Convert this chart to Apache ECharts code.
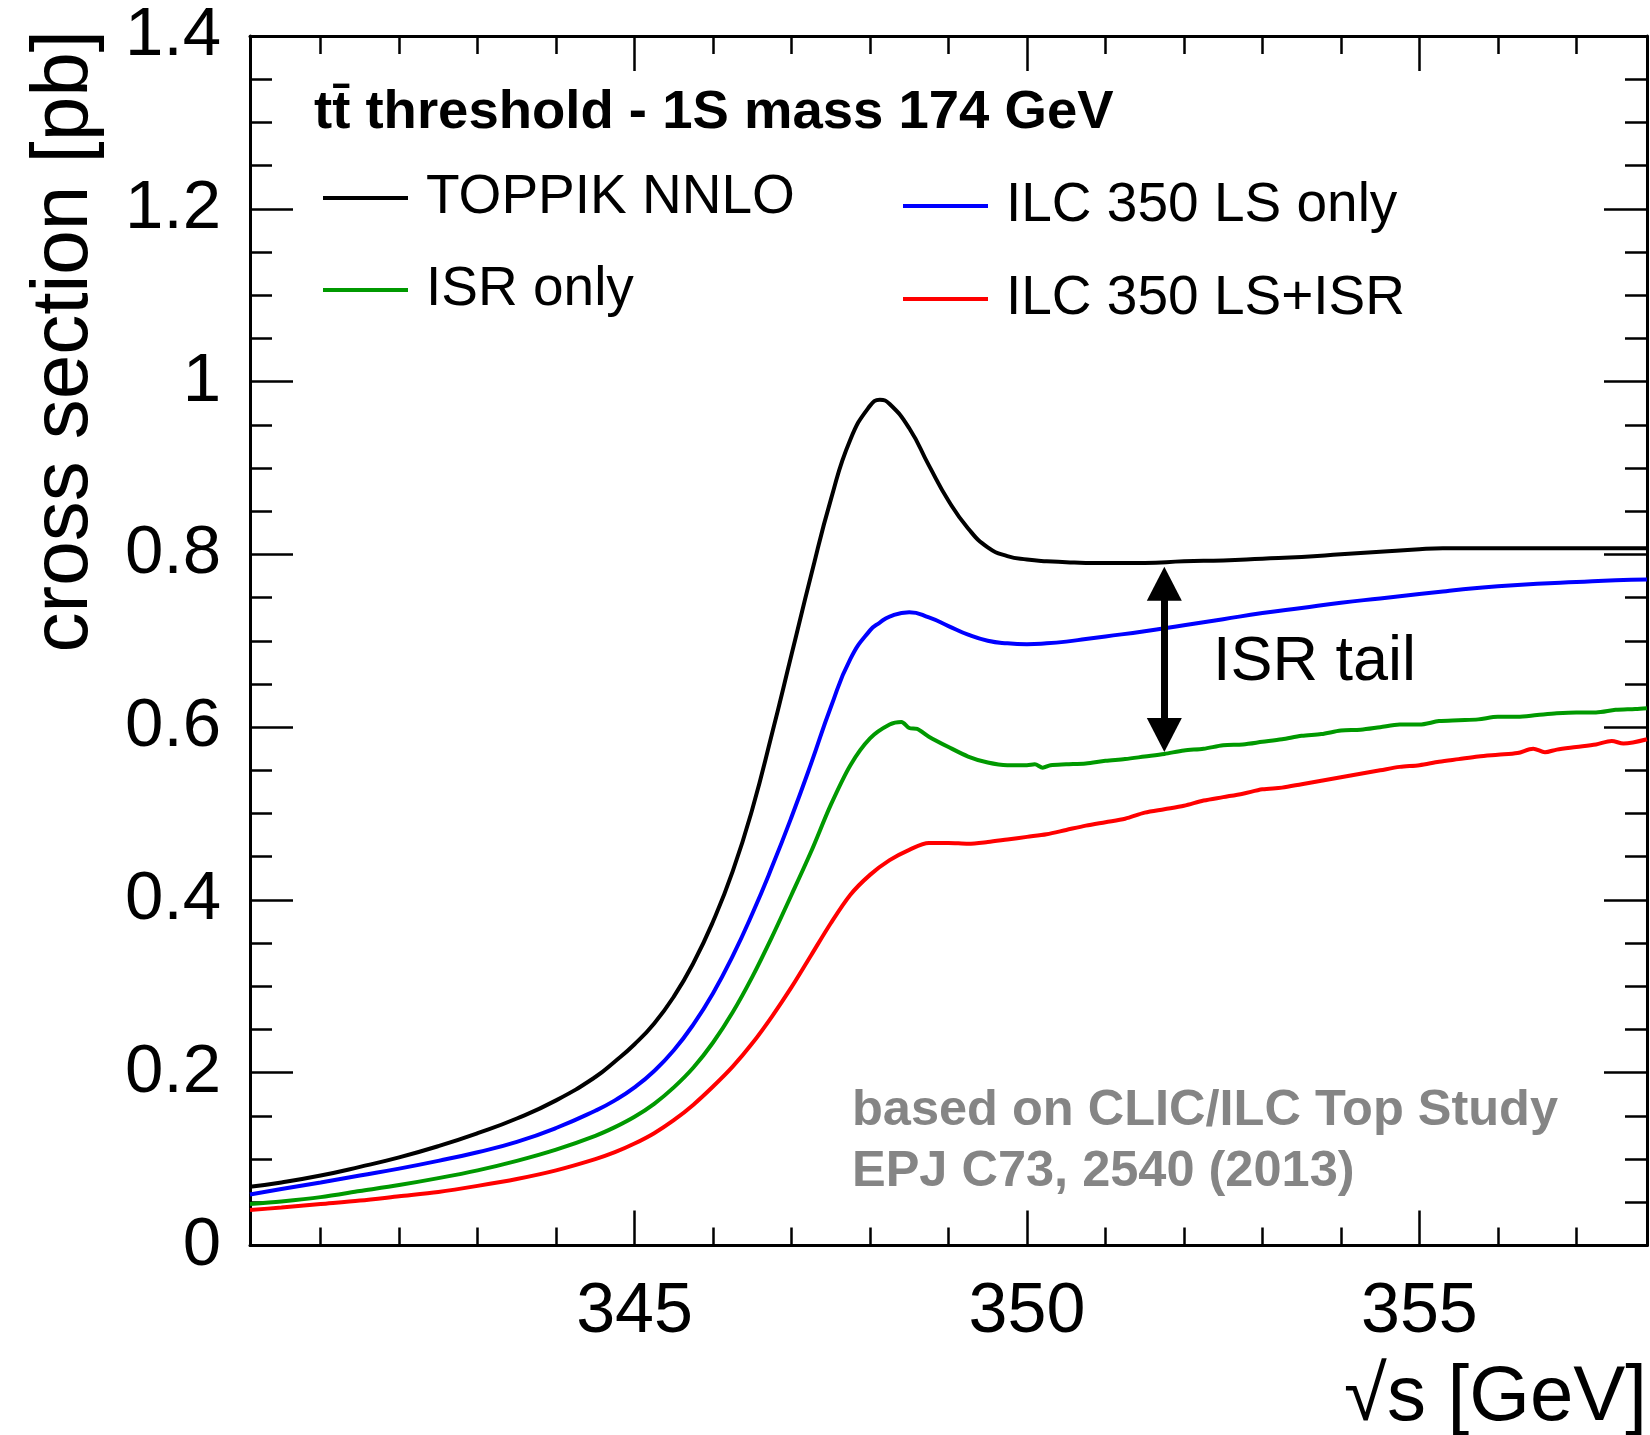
<!DOCTYPE html>
<html>
<head>
<meta charset="utf-8">
<script src="https://cdn.jsdelivr.net/npm/echarts/dist/echarts.min.js"></script>
<style>
  html, body { margin: 0; padding: 0; background: #fff; }
  #chart { width: 1650px; height: 1435px; }
</style>
</head>
<body>
<div id="chart"></div>
<script>
// Centre-of-mass energy grid (GeV) shared by the two smooth curves
const energySmooth = [340.1, 340.5, 341.0, 341.5, 342.0, 342.5, 343.0, 343.5, 344.0, 344.5,
  344.75, 345.0, 345.25, 345.5, 345.75, 346.0, 346.25, 346.5, 346.75, 347.0,
  347.25, 347.5, 347.75, 348.0, 348.125, 348.25, 348.5, 348.75, 349.0, 349.25, 349.5,
  349.75, 350.0, 350.25, 350.5, 350.75, 351.0, 351.5, 352.0, 352.5, 353.0,
  353.5, 354.0, 354.5, 355.0, 355.3, 355.5, 356.0, 356.5, 357.0, 357.5, 357.9];

// TOPPIK NNLO cross section (pb)
const toppikNNLO = [0.068, 0.073, 0.081, 0.091, 0.102, 0.115, 0.130, 0.147, 0.168, 0.195,
  0.213, 0.233, 0.257, 0.288, 0.327, 0.375, 0.433, 0.505, 0.592, 0.684,
  0.776, 0.863, 0.933, 0.972, 0.979, 0.974, 0.946, 0.903, 0.862, 0.830, 0.808,
  0.798, 0.794, 0.792, 0.791, 0.790, 0.790, 0.790, 0.792, 0.793, 0.795,
  0.797, 0.800, 0.803, 0.806, 0.807, 0.807, 0.807, 0.807, 0.807, 0.807, 0.807];

// ILC 350 luminosity spectrum only (pb)
const ilcLSOnly = [0.059, 0.0655, 0.073, 0.081, 0.089, 0.098, 0.108, 0.120, 0.136, 0.156,
  0.168, 0.183, 0.202, 0.226, 0.256, 0.292, 0.335, 0.384, 0.438, 0.496,
  0.558, 0.623, 0.679, 0.712, 0.721, 0.728, 0.733, 0.727, 0.717, 0.707, 0.700,
  0.697, 0.696, 0.697, 0.699, 0.702, 0.705, 0.711, 0.718, 0.725, 0.732,
  0.738, 0.744, 0.749, 0.754, 0.757, 0.759, 0.763, 0.766, 0.768, 0.770, 0.771];

// ISR only (pb), on its own energy grid
const energyISR = [340.1, 340.5, 341.0, 341.5, 342.0, 342.5, 343.0, 343.5, 344.0, 344.5,
  344.75, 345.0, 345.25, 345.5, 345.75, 346.0, 346.25, 346.5, 346.75, 347.0,
  347.25, 347.5, 347.75, 348.0, 348.25, 348.4, 348.5, 348.6, 348.75, 349.0,
  349.25, 349.5, 349.75, 350.0, 350.1, 350.2, 350.3, 350.5, 350.75, 351.0,
  351.25, 351.5, 351.75, 352.0, 352.25, 352.5, 352.75, 353.0, 353.25, 353.5,
  353.75, 354.0, 354.25, 354.5, 354.75, 355.0, 355.25, 355.5, 355.75, 356.0,
  356.25, 356.5, 356.75, 357.0, 357.25, 357.5, 357.75, 357.9];
const isrOnly = [0.048, 0.051, 0.056, 0.063, 0.070, 0.078, 0.087, 0.098, 0.111, 0.127,
  0.137, 0.149, 0.164, 0.183, 0.206, 0.235, 0.270, 0.311, 0.357, 0.406,
  0.456, 0.510, 0.556, 0.587, 0.603, 0.606, 0.599, 0.598, 0.589, 0.577,
  0.566, 0.559, 0.556, 0.556, 0.557, 0.553, 0.556, 0.557, 0.558, 0.561,
  0.563, 0.566, 0.569, 0.573, 0.575, 0.579, 0.580, 0.583, 0.586, 0.590,
  0.592, 0.596, 0.597, 0.600, 0.603, 0.603, 0.607, 0.608, 0.609, 0.612,
  0.612, 0.614, 0.616, 0.617, 0.617, 0.620, 0.621, 0.622];

// ILC 350 luminosity spectrum + ISR (pb)
const energyLSISR = [340.1, 340.5, 341.0, 341.5, 342.0, 342.5, 343.0, 343.5, 344.0, 344.5,
  344.75, 345.0, 345.25, 345.5, 345.75, 346.0, 346.25, 346.5, 346.75, 347.0,
  347.25, 347.5, 347.75, 348.0, 348.25, 348.5, 348.75, 349.0, 349.25, 349.5,
  349.75, 350.0, 350.25, 350.5, 350.75, 351.0, 351.25, 351.5, 351.75, 352.0,
  352.25, 352.5, 352.75, 353.0, 353.25, 353.5, 353.75, 354.0, 354.25, 354.5,
  354.75, 355.0, 355.25, 355.5, 355.75, 356.0, 356.25, 356.45, 356.6, 356.75,
  357.0, 357.25, 357.45, 357.6, 357.9];
const ilcLSPlusISR = [0.041, 0.044, 0.048, 0.052, 0.057, 0.062, 0.069, 0.077, 0.087, 0.100,
  0.108, 0.118, 0.130, 0.145, 0.163, 0.184, 0.207, 0.234, 0.265, 0.299,
  0.336, 0.373, 0.406, 0.429, 0.446, 0.458, 0.466, 0.466, 0.465, 0.467,
  0.470, 0.473, 0.476, 0.481, 0.486, 0.490, 0.494, 0.501, 0.505, 0.509,
  0.515, 0.519, 0.523, 0.528, 0.530, 0.534, 0.538, 0.542, 0.546, 0.550,
  0.554, 0.556, 0.560, 0.563, 0.566, 0.568, 0.570, 0.575, 0.571, 0.574,
  0.577, 0.580, 0.584, 0.581, 0.586];

// "ISR tail" arrow: energy and the cross-section span it covers (head centres)
const tailArrowEnergy = 351.75;
const tailArrowSpan = [0.766, 0.591];

const seriesNames = ['TOPPIK NNLO', 'ISR only', 'ILC 350 LS only', 'ILC 350 LS+ISR'];
const seriesColors = ['#000000', '#009900', '#0000ff', '#ff0000'];

const FONT = '"Liberation Sans", Arial, Helvetica, sans-serif';

function pairs(xs, ys) { return xs.map((x, i) => [x, ys[i]]); }

const frameAxisLine = { onZero: false, lineStyle: { color: '#000', width: 3 } };
const tickStyle = { color: '#000', width: 2.5 };

function xAxisDef(position, labels) {
  return {
    type: 'value', position: position, min: 340.1, max: 357.9, splitNumber: 3,
    axisLine: frameAxisLine,
    axisTick: { inside: true, length: 35, lineStyle: tickStyle },
    minorTick: { show: true, splitNumber: 5, length: 18, lineStyle: tickStyle },
    axisLabel: labels ? { show: true, showMinLabel: false, showMaxLabel: false, margin: 32,
      fontFamily: FONT, fontSize: 70, color: '#000' } : { show: false },
    splitLine: { show: false }, minorSplitLine: { show: false }
  };
}
function yAxisDef(position, labels) {
  return {
    type: 'value', position: position, min: 0, max: 1.4, interval: 0.2,
    axisLine: frameAxisLine,
    axisTick: { inside: true, length: 43, lineStyle: tickStyle },
    minorTick: { show: true, splitNumber: 4, length: 22, lineStyle: tickStyle },
    axisLabel: labels ? { show: true, margin: 29, fontFamily: FONT, fontSize: 69, color: '#000' } : { show: false },
    splitLine: { show: false }, minorSplitLine: { show: false }
  };
}

function lineSeries(name, color, data, smooth, z) {
  return {
    name: name, type: 'line', data: data, smooth: smooth, showSymbol: false, symbol: 'none',
    xAxisIndex: 0, yAxisIndex: 0, z: z,
    lineStyle: { color: color, width: 4 }, itemStyle: { color: color },
    emphasis: { disabled: true }
  };
}

const legendCommon = {
  orient: 'vertical', padding: 0, itemWidth: 85, itemHeight: 4, icon: 'rect',
  selectedMode: false,
  textStyle: { fontFamily: FONT, fontSize: 55, color: '#000', lineHeight: 60, padding: [0, 0, 0, 13] }
};

const redSeries = lineSeries(seriesNames[3], seriesColors[3], pairs(energyLSISR, ilcLSPlusISR), 0.3, 5);
redSeries.markLine = {
  silent: true, animation: false,
  symbol: ['triangle', 'triangle'], symbolSize: [35, 34],
  lineStyle: { color: '#000', width: 7, type: 'solid' },
  itemStyle: { color: '#000' },
  label: { show: false },
  emphasis: { disabled: true },
  data: [[{ coord: [tailArrowEnergy, tailArrowSpan[0]] }, { coord: [tailArrowEnergy, tailArrowSpan[1]] }]]
};

const option = {
  animation: false,
  backgroundColor: '#ffffff',
  grid: { left: 250, top: 36, right: 3, bottom: 189.5, containLabel: false },
  xAxis: [xAxisDef('bottom', true), xAxisDef('top', false)],
  yAxis: [yAxisDef('left', true), yAxisDef('right', false)],
  legend: [
    Object.assign({}, legendCommon, { data: [seriesNames[0], seriesNames[1]], left: 323, top: 168, itemGap: 32 }),
    Object.assign({}, legendCommon, { data: [seriesNames[2], seriesNames[3]], left: 903, top: 176, itemGap: 33 })
  ],
  series: [
    lineSeries(seriesNames[0], seriesColors[0], pairs(energySmooth, toppikNNLO), 0.5, 2),
    lineSeries(seriesNames[2], seriesColors[2], pairs(energySmooth, ilcLSOnly), 0.5, 3),
    lineSeries(seriesNames[1], seriesColors[1], pairs(energyISR, isrOnly), 0.3, 4),
    redSeries
  ],
  graphic: [
    { type: 'text', x: 314, y: 113, silent: true,
      style: { text: 'tt\u0304 threshold - 1S mass 174 GeV', fontFamily: FONT, fontWeight: 'bold',
        fontSize: 54.5, fill: '#000', align: 'left', verticalAlign: 'middle' } },
    { type: 'text', x: 1213, y: 663, silent: true,
      style: { text: 'ISR tail', fontFamily: FONT, fontSize: 63, fill: '#000',
        align: 'left', verticalAlign: 'middle' } },
    { type: 'text', x: 852, y: 1111, silent: true,
      style: { text: 'based on CLIC/ILC Top Study', fontFamily: FONT, fontWeight: 'bold',
        fontSize: 50.5, fill: '#858585', align: 'left', verticalAlign: 'middle' } },
    { type: 'text', x: 852, y: 1172, silent: true,
      style: { text: 'EPJ C73, 2540 (2013)', fontFamily: FONT, fontWeight: 'bold',
        fontSize: 50.5, fill: '#858585', align: 'left', verticalAlign: 'middle' } },
    { type: 'text', x: 1647, y: 1398, silent: true,
      style: { text: '\u221As [GeV]', fontFamily: FONT, fontSize: 78, fill: '#000',
        align: 'right', verticalAlign: 'middle' } },
    { type: 'text', x: 65, y: 30, rotation: Math.PI / 2, silent: true,
      style: { text: 'cross section [pb]', fontFamily: FONT, fontSize: 80, fill: '#000',
        align: 'right', verticalAlign: 'middle' } }
  ]
};

const chart = echarts.init(document.getElementById('chart'), null, { renderer: 'canvas' });
chart.setOption(option);
</script>
</body>
</html>
